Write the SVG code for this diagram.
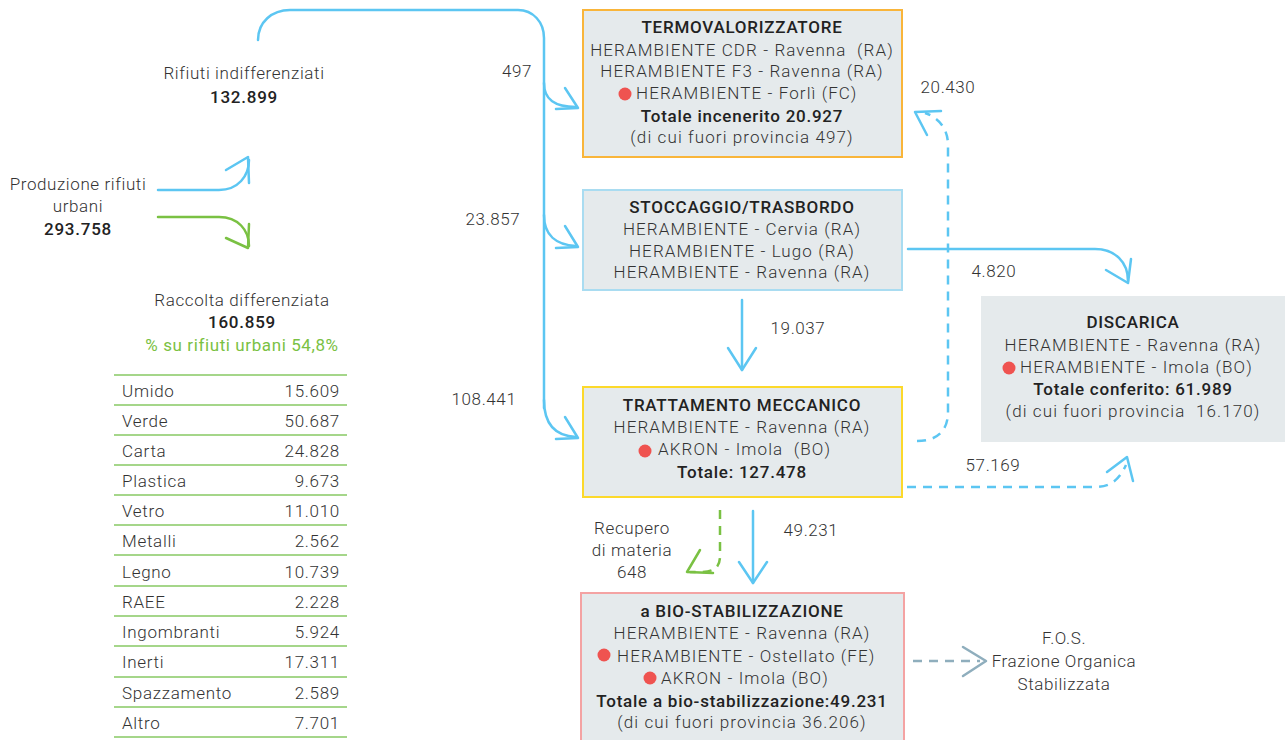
<svg xmlns="http://www.w3.org/2000/svg" width="1285" height="740" viewBox="0 0 1285 740">
<style>
text{font-family:Roboto,"Liberation Sans",sans-serif;font-weight:300;fill:#333;font-size:17px;letter-spacing:0.6px;white-space:pre}
.c{text-anchor:middle}
.e{text-anchor:end}
.b{font-weight:500;fill:#222;letter-spacing:0.75px}
.g{fill:#7ac143;font-weight:400}
.bx text{letter-spacing:1.1px}
.bx text.b{letter-spacing:0.75px}
.box{fill:#e5eaec;stroke-width:2}
.dot{fill:#ef5350}
.bl{fill:none;stroke:#5cc6f2;stroke-width:2.5;stroke-linecap:round;stroke-linejoin:round}
.gr{fill:none;stroke:#7ac143;stroke-width:2.5;stroke-linecap:round;stroke-linejoin:round}
.gy{fill:none;stroke:#8faebd;stroke-width:2.5;stroke-linecap:round;stroke-linejoin:round}
.d{stroke-dasharray:9 7;stroke-linecap:butt}
.tl{stroke:#a5d68a;stroke-width:2}
.tb text{letter-spacing:0.7px}
</style>

<g id="connectors">
  <path class="bl" d="M258,40 C258,22 272,10 290,10 L518,10 C533,10 544,22 544,38 L544,408"/>
  <path class="bl" d="M544,83 C544,100 555,107 576,107"/>
  <path class="bl" d="M565,88 L578,108 L556,109"/>
  <path class="bl" d="M544,215 C544,235 556,245 576,246"/>
  <path class="bl" d="M565,226 L578,247 L556,248"/>
  <path class="bl" d="M544,400 C544,425 556,436 576,437"/>
  <path class="bl" d="M565,417 L578,438 L556,439"/>
  <path class="bl" d="M158,190 L219,190 C238,190 249,176 249,160"/>
  <path class="bl" d="M226,170 L248,157 L249,183"/>
  <path class="gr" d="M158,217 L219,217 C238,217 249,230 249,246"/>
  <path class="gr" d="M226,238 L248,248 L249,224"/>
  <path class="bl" d="M742,300 L742,370"/>
  <path class="bl" d="M728,348 L742,370 L756,348"/>
  <path class="bl" d="M753,511 L753,583"/>
  <path class="bl" d="M739,562 L753,583 L767,562"/>
  <path class="gr d" d="M720,510 L720,556 C720,566 716,572 700,572 L690,572"/>
  <path class="gr" d="M700,550 L687,572 L713,573"/>
  <path class="bl d" d="M917,441 C938,441 948,430 948,412 L948,145 C948,130 940,118 925,113"/>
  <path class="bl" d="M941,111 L915,112 L927,135"/>
  <path class="bl" d="M908,249 L1095,249 C1115,249 1128,262 1128,281"/>
  <path class="bl" d="M1106,270 L1128,283 L1131,259"/>
  <path class="bl d" d="M907,487 L1095,487 C1112,487 1120,478 1126,465"/>
  <path class="bl" d="M1107,472 L1127,457 L1133,481"/>
  <path class="gy d" d="M913,661 L980,661"/>
  <path class="gy" d="M963,647 L986,661 L963,676"/>
</g>

<g id="labels">
  <text x="517" y="77" class="c">497</text>
  <text x="493" y="225" class="c">23.857</text>
  <text x="484" y="405" class="c">108.441</text>
  <text x="798" y="334" class="c">19.037</text>
  <text x="811" y="536" class="c">49.231</text>
  <text x="948" y="93" class="c">20.430</text>
  <text x="994" y="277" class="c">4.820</text>
  <text x="993" y="471" class="c">57.169</text>
  <text x="632" y="534" class="c">Recupero</text>
  <text x="632" y="556" class="c">di materia</text>
  <text x="632" y="578" class="c">648</text>
</g>

<g id="rifiuti-indifferenziati">
  <text x="244" y="79" class="c">Rifiuti indifferenziati</text>
  <text x="244" y="103" class="c b">132.899</text>
</g>

<g id="produzione">
  <text x="78" y="190" class="c">Produzione rifiuti</text>
  <text x="78" y="212" class="c">urbani</text>
  <text x="78" y="235" class="c b">293.758</text>
</g>

<g id="raccolta">
  <text x="242" y="306" class="c">Raccolta differenziata</text>
  <text x="242" y="328" class="c b">160.859</text>
  <text x="242" y="351" class="c g">% su rifiuti urbani 54,8%</text>
</g>

<g id="tabella" class="tb">
  <line class="tl" x1="114" y1="375" x2="347" y2="375"/>
  <line class="tl" x1="114" y1="405" x2="347" y2="405"/>
  <line class="tl" x1="114" y1="435" x2="347" y2="435"/>
  <line class="tl" x1="114" y1="465" x2="347" y2="465"/>
  <line class="tl" x1="114" y1="495" x2="347" y2="495"/>
  <line class="tl" x1="114" y1="525" x2="347" y2="525"/>
  <line class="tl" x1="114" y1="555" x2="347" y2="555"/>
  <line class="tl" x1="114" y1="586" x2="347" y2="586"/>
  <line class="tl" x1="114" y1="616" x2="347" y2="616"/>
  <line class="tl" x1="114" y1="646" x2="347" y2="646"/>
  <line class="tl" x1="114" y1="677" x2="347" y2="677"/>
  <line class="tl" x1="114" y1="707" x2="347" y2="707"/>
  <line class="tl" x1="114" y1="737" x2="347" y2="737"/>
  <text x="122" y="397">Umido</text><text x="340" y="397" class="e">15.609</text>
  <text x="122" y="427">Verde</text><text x="340" y="427" class="e">50.687</text>
  <text x="122" y="457">Carta</text><text x="340" y="457" class="e">24.828</text>
  <text x="122" y="487">Plastica</text><text x="340" y="487" class="e">9.673</text>
  <text x="122" y="517">Vetro</text><text x="340" y="517" class="e">11.010</text>
  <text x="122" y="547">Metalli</text><text x="340" y="547" class="e">2.562</text>
  <text x="122" y="578">Legno</text><text x="340" y="578" class="e">10.739</text>
  <text x="122" y="608">RAEE</text><text x="340" y="608" class="e">2.228</text>
  <text x="122" y="638">Ingombranti</text><text x="340" y="638" class="e">5.924</text>
  <text x="122" y="668">Inerti</text><text x="340" y="668" class="e">17.311</text>
  <text x="122" y="699">Spazzamento</text><text x="340" y="699" class="e">2.589</text>
  <text x="122" y="729">Altro</text><text x="340" y="729" class="e">7.701</text>
</g>

<g id="termovalorizzatore" class="bx">
  <rect class="box" x="583" y="10" width="319" height="147" stroke="#f9b53a"/>
  <text x="742" y="33" class="c b">TERMOVALORIZZATORE</text>
  <text x="742" y="56" class="c">HERAMBIENTE CDR - Ravenna  (RA)</text>
  <text x="742" y="77" class="c">HERAMBIENTE F3 - Ravenna (RA)</text>
  <circle class="dot" cx="625" cy="94" r="6.5"/>
  <text x="636" y="99">HERAMBIENTE - Forlì (FC)</text>
  <text x="742" y="122" class="c b">Totale incenerito 20.927</text>
  <text x="742" y="143" class="c">(di cui fuori provincia 497)</text>
</g>

<g id="stoccaggio" class="bx">
  <rect class="box" x="583" y="190" width="319" height="100" stroke="#a9dcf1"/>
  <text x="742" y="213" class="c b">STOCCAGGIO/TRASBORDO</text>
  <text x="742" y="235" class="c">HERAMBIENTE - Cervia (RA)</text>
  <text x="742" y="257" class="c">HERAMBIENTE - Lugo (RA)</text>
  <text x="742" y="278" class="c">HERAMBIENTE - Ravenna (RA)</text>
</g>

<g id="trattamento" class="bx">
  <rect class="box" x="583" y="387" width="319" height="110" stroke="#fcd92b"/>
  <text x="742" y="411" class="c b">TRATTAMENTO MECCANICO</text>
  <text x="742" y="433" class="c">HERAMBIENTE - Ravenna (RA)</text>
  <circle class="dot" cx="645" cy="451" r="6.5"/>
  <text x="658" y="455">AKRON - Imola  (BO)</text>
  <text x="742" y="478" class="c b">Totale: 127.478</text>
</g>

<g id="discarica" class="bx">
  <rect x="981" y="296" width="304" height="146" fill="#e5eaec"/>
  <text x="1133" y="328" class="c b">DISCARICA</text>
  <text x="1133" y="351" class="c">HERAMBIENTE - Ravenna (RA)</text>
  <circle class="dot" cx="1009" cy="368" r="6.5"/>
  <text x="1020" y="373">HERAMBIENTE - Imola (BO)</text>
  <text x="1133" y="395" class="c b">Totale conferito: 61.989</text>
  <text x="1133" y="417" class="c">(di cui fuori provincia  16.170)</text>
</g>

<g id="biostabilizzazione" class="bx">
  <rect class="box" x="581" y="593" width="323" height="160" stroke="#f4a3a3"/>
  <text x="742" y="617" class="c b">a BIO-STABILIZZAZIONE</text>
  <text x="742" y="639" class="c">HERAMBIENTE - Ravenna (RA)</text>
  <circle class="dot" cx="604" cy="655" r="6.5"/>
  <text x="617" y="662">HERAMBIENTE - Ostellato (FE)</text>
  <circle class="dot" cx="650" cy="678" r="6.5"/>
  <text x="661" y="684">AKRON - Imola (BO)</text>
  <text x="742" y="707" class="c b">Totale a bio-stabilizzazione:49.231</text>
  <text x="742" y="728" class="c">(di cui fuori provincia 36.206)</text>
</g>

<g id="fos">
  <text x="1064" y="644" class="c">F.O.S.</text>
  <text x="1064" y="667" class="c">Frazione Organica</text>
  <text x="1064" y="690" class="c">Stabilizzata</text>
</g>
</svg>
